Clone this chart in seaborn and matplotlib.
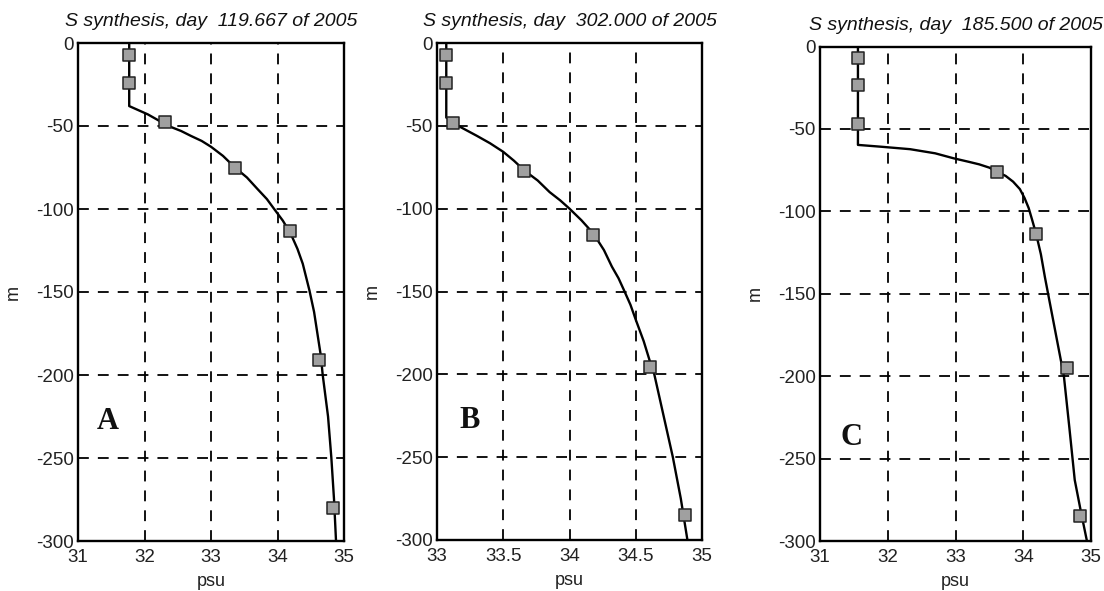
import matplotlib
matplotlib.use("Agg")
import matplotlib.pyplot as plt
import seaborn as sns
import pandas as pd
from matplotlib.ticker import FixedLocator, FixedFormatter

sns.set_theme(style="white")
plt.rcParams['font.family'] = ['Liberation Sans', 'DejaVu Sans']

# ---------------- data ----------------
titles = ["S synthesis, day  119.667 of 2005",
          "S synthesis, day  302.000 of 2005",
          "S synthesis, day  185.500 of 2005"]
letters = ["A", "B", "C"]

# observation markers (psu, depth m)
obsA_s = [31.77, 31.77, 32.31, 33.36, 34.19, 34.63, 34.84]
obsA_z = [-7.3, -24, -47.5, -75.3, -113, -191, -280]
obsB_s = [33.07, 33.07, 33.12, 33.66, 34.18, 34.61, 34.87]
obsB_z = [-7.3, -24, -48.5, -77.3, -115.6, -195.6, -284.8]
obsC_s = [31.56, 31.56, 31.56, 33.61, 34.19, 34.65, 34.84]
obsC_z = [-7.2, -23.3, -47, -76, -113.7, -195, -284.7]

# synthesized profile curves (psu, depth m)
curA_s = [31.77, 31.77, 32.05, 32.36, 32.55, 32.70, 32.86, 33.00, 33.18, 33.36, 33.54, 33.70, 33.84, 33.95, 34.08, 34.20, 34.30, 34.38, 34.48, 34.55, 34.60, 34.65, 34.68, 34.76, 34.81, 34.85, 34.88]
curA_z = [0, -38, -43, -50, -53, -56, -59, -62.5, -68, -75, -81, -88, -94, -100, -107, -115, -124, -133, -149, -162, -175, -188, -200, -225, -250, -275, -300]
curB_s = [33.07, 33.07, 33.16, 33.30, 33.40, 33.50, 33.58, 33.66, 33.76, 33.85, 33.93, 34.00, 34.09, 34.18, 34.26, 34.32, 34.37, 34.41, 34.46, 34.50, 34.56, 34.61, 34.64, 34.71, 34.78, 34.84, 34.89]
curB_z = [0, -45, -50, -56, -60.5, -65.7, -71, -77, -83, -90, -95, -100, -107, -115, -125, -135, -142, -149, -158, -167, -180, -193, -200, -225, -250, -275, -300]
curC_s = [31.56, 31.56, 31.90, 32.33, 32.70, 32.97, 33.20, 33.35, 33.50, 33.61, 33.74, 33.85, 33.95, 34.02, 34.08, 34.13, 34.19, 34.26, 34.32, 34.46, 34.60, 34.68, 34.76, 34.85, 34.94]
curC_z = [0, -59.7, -60.8, -62.3, -64.8, -67.8, -70, -71.5, -73.5, -76, -78.5, -82, -86.5, -92, -98, -105, -113.7, -126, -140, -170, -200, -231, -263, -282, -300]

xticksA = [31, 32, 33, 34, 35]
xticksB = [33, 33.5, 34, 34.5, 35]
xlabelsA = ["31", "32", "33", "34", "35"]
xlabelsB = ["33", "33.5", "34", "34.5", "35"]
yticks = [0, -50, -100, -150, -200, -250, -300]
ylabels = ["0", "-50", "-100", "-150", "-200", "-250", "-300"]

panels = [
    dict(obs_s=obsA_s, obs_z=obsA_z, cur_s=curA_s, cur_z=curA_z, xlim=(31, 35), xt=xticksA, xl=xlabelsA,
         pos=[78/1104, 1-541/591, 266/1104, (541-43)/591], letter_xy=(31.45, -228)),
    dict(obs_s=obsB_s, obs_z=obsB_z, cur_s=curB_s, cur_z=curB_z, xlim=(33, 35), xt=xticksB, xl=xlabelsB,
         pos=[437/1104, 1-540/591, 265/1104, (540-43)/591], letter_xy=(33.25, -228)),
    dict(obs_s=obsC_s, obs_z=obsC_z, cur_s=curC_s, cur_z=curC_z, xlim=(31, 35), xt=xticksA, xl=xlabelsA,
         pos=[820/1104, 1-541/591, 271/1104, (541-46.5)/591], letter_xy=(31.47, -237)),
]

fig = plt.figure(figsize=(11.04, 5.91), dpi=100)
fig.patch.set_facecolor("white")

for i, p in enumerate(panels):
    ax = fig.add_axes(p["pos"])
    ax.set_facecolor("white")
    cur = pd.DataFrame({"psu": p["cur_s"], "m": p["cur_z"]})
    obs = pd.DataFrame({"psu": p["obs_s"], "m": p["obs_z"]})
    sns.lineplot(data=cur, x="psu", y="m", sort=False, estimator=None, errorbar=None,
                 color="black", lw=1.7, ax=ax, zorder=3)
    sns.scatterplot(data=obs, x="psu", y="m", marker="s", s=85, color="#a0a0a0",
                    edgecolor="#222222", linewidth=1.1, ax=ax, zorder=4)
    ax.set_xlim(*p["xlim"])
    ax.set_ylim(-300, 0)
    ax.xaxis.set_major_locator(FixedLocator(p["xt"]))
    ax.xaxis.set_major_formatter(FixedFormatter(p["xl"]))
    ax.yaxis.set_major_locator(FixedLocator(yticks))
    ax.yaxis.set_major_formatter(FixedFormatter(ylabels))
    ax.grid(True, color="black", linestyle=(0, (6, 5)), linewidth=1.3, zorder=1)
    ax.set_axisbelow(True)
    for sp in ax.spines.values():
        sp.set_color("black")
        sp.set_linewidth(1.7)
        sp.set_visible(True)
    ax.tick_params(axis="both", labelsize=13.5, colors="#222222", length=0)
    ax.tick_params(axis="x", pad=6)
    ax.tick_params(axis="y", pad=3)
    ax.set_xlabel("psu", fontsize=13, color="#222222", labelpad=5)
    ax.set_ylabel("m", fontsize=13, color="#222222", labelpad=10)
    ax.set_title(titles[i], fontsize=14, style="italic", color="#111111", pad=12)
    ax.text(p["letter_xy"][0], p["letter_xy"][1], letters[i], fontsize=22, fontweight="bold",
            family=["Liberation Serif", "DejaVu Serif"], color="#111111", ha="center", va="center", zorder=5)

fig.savefig("out.png", dpi=100, facecolor="white")
